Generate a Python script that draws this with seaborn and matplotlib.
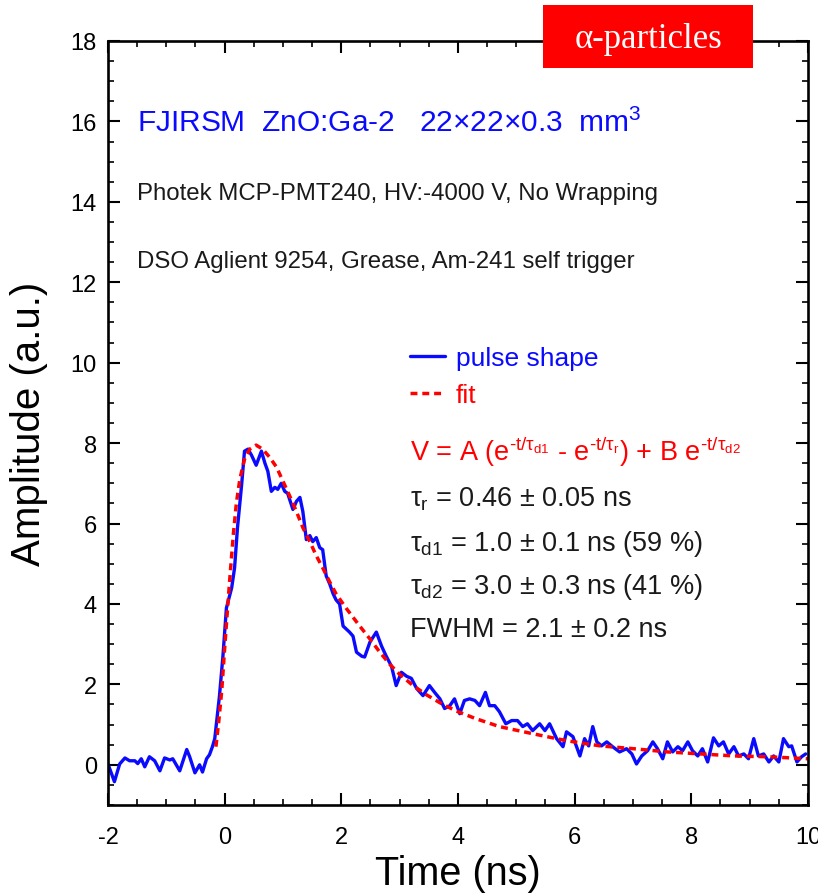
import numpy as np
import pandas as pd
import matplotlib
matplotlib.use("Agg")
import matplotlib.pyplot as plt
import seaborn as sns
from matplotlib.patches import Rectangle
from matplotlib.ticker import MultipleLocator

# ---------------- data ----------------
pulse_t = [-2.00, -1.89, -1.80, -1.71, -1.63, -1.54, -1.49, -1.43, -1.37, -1.29,
           -1.20, -1.11, -1.03, -0.94, -0.89, -0.77, -0.65, -0.60, -0.51, -0.43,
           -0.38, -0.31, -0.26, -0.21, -0.17, -0.09, -0.03, 0.03, 0.12, 0.17,
           0.22, 0.29, 0.34, 0.40, 0.46, 0.54, 0.63, 0.69, 0.74, 0.80,
           0.86, 0.91, 0.97, 1.03, 1.08, 1.17, 1.23, 1.29, 1.34, 1.40,
           1.46, 1.51, 1.57, 1.63, 1.68, 1.74, 1.80, 1.86, 1.91, 1.97,
           2.03, 2.14, 2.20, 2.26, 2.35, 2.40, 2.49, 2.60, 2.69, 2.77,
           2.86, 2.94, 3.03, 3.12, 3.20, 3.29, 3.40, 3.51, 3.60, 3.69,
           3.77, 3.86, 3.94, 4.03, 4.11, 4.20, 4.29, 4.37, 4.47, 4.54,
           4.63, 4.71, 4.82, 4.92, 5.02, 5.11, 5.19, 5.28, 5.40, 5.49,
           5.57, 5.69, 5.80, 5.86, 5.97, 6.09, 6.17, 6.24, 6.31, 6.38,
           6.46, 6.55, 6.65, 6.77, 6.89, 6.98, 7.06, 7.15, 7.25, 7.34,
           7.42, 7.51, 7.59, 7.68, 7.77, 7.85, 7.94, 8.02, 8.11, 8.19,
           8.28, 8.38, 8.47, 8.55, 8.64, 8.73, 8.81, 8.90, 8.98, 9.07,
           9.15, 9.24, 9.33, 9.41, 9.50, 9.58, 9.67, 9.72, 9.81, 9.89, 9.96]
pulse_v = [0.02, -0.42, 0.02, 0.17, 0.10, 0.10, 0.03, 0.15, -0.05, 0.20,
           0.10, -0.15, 0.17, 0.12, 0.15, -0.15, 0.38, 0.20, -0.20, 0.00,
           -0.18, 0.15, 0.25, 0.45, 0.65, 1.70, 2.70, 3.90, 4.40, 4.90,
           5.90, 6.95, 7.80, 7.85, 7.70, 7.45, 7.80, 7.50, 7.30, 6.80,
           6.90, 6.85, 7.00, 6.80, 6.75, 6.35, 6.55, 6.65, 6.30, 5.60,
           5.70, 5.55, 5.65, 5.40, 5.35, 4.70, 4.50, 4.25, 4.10, 4.00,
           3.45, 3.30, 3.20, 2.80, 2.70, 2.68, 3.05, 3.30, 2.95, 2.70,
           2.45, 1.97, 2.30, 2.20, 2.15, 1.90, 1.72, 1.97, 1.80, 1.64,
           1.40, 1.47, 1.64, 1.27, 1.60, 1.64, 1.60, 1.47, 1.80, 1.47,
           1.47, 1.32, 1.02, 1.10, 1.10, 0.95, 1.02, 0.85, 1.02, 0.85,
           1.02, 0.65, 0.45, 0.82, 0.70, 0.22, 0.65, 0.47, 0.95, 0.57,
           0.47, 0.57, 0.45, 0.32, 0.40, 0.27, 0.02, 0.22, 0.35, 0.57,
           0.40, 0.15, 0.57, 0.32, 0.45, 0.35, 0.57, 0.35, 0.22, 0.40,
           0.07, 0.67, 0.47, 0.57, 0.27, 0.45, 0.22, 0.27, 0.15, 0.65,
           0.22, 0.27, 0.07, 0.22, 0.07, 0.65, 0.45, 0.47, 0.07, 0.20, 0.27]

fit_t = [-0.15, -0.10, -0.05, 0.00, 0.05, 0.10, 0.15, 0.20, 0.26, 0.34,
         0.43, 0.54, 0.65, 0.77, 0.89, 1.00, 1.11, 1.23, 1.34, 1.46,
         1.57, 1.68, 1.80, 1.91, 2.09, 2.31, 2.49, 2.66, 2.83, 3.00,
         3.23, 3.46, 3.74, 4.00, 4.30, 4.71, 5.29, 5.86, 6.44, 7.01,
         7.59, 8.16, 8.74, 9.31, 10.00]
fit_v = [0.45, 1.10, 1.85, 2.90, 3.90, 4.85, 5.75, 6.50, 7.10, 7.60,
         7.85, 7.95, 7.85, 7.65, 7.40, 7.05, 6.70, 6.30, 5.90, 5.55,
         5.20, 4.90, 4.55, 4.25, 3.88, 3.46, 3.13, 2.80, 2.50, 2.25,
         1.97, 1.74, 1.50, 1.32, 1.15, 0.95, 0.77, 0.60, 0.47, 0.40,
         0.32, 0.27, 0.22, 0.20, 0.15]

x_ticks = [-2, 0, 2, 4, 6, 8, 10]
y_ticks = [0, 2, 4, 6, 8, 10, 12, 14, 16, 18]

title_text = "FJIRSM  ZnO:Ga-2   22×22×0.3  mm$^{3}$"
info_lines = ["Photek MCP-PMT240, HV:-4000 V, No Wrapping",
              "DSO Aglient 9254, Grease, Am-241 self trigger"]
eq_text = r"V = A (e$^{\text{-}t/\tau_{d1}}$ - e$^{\text{-}t/\tau_{r}}$) + B e$^{\text{-}t/\tau_{d2}}$"
param_lines = [r"$\tau_{r}$ = 0.46 ± 0.05 ns",
               r"$\tau_{d1}$ = 1.0 ± 0.1 ns (59 %)",
               r"$\tau_{d2}$ = 3.0 ± 0.3 ns (41 %)",
               "FWHM = 2.1 ± 0.2 ns"]

# ---------------- style ----------------
sns.set_theme(style="ticks")
plt.rcParams["font.family"] = ["Liberation Sans", "DejaVu Sans"]
plt.rcParams["mathtext.fontset"] = "custom"
plt.rcParams["mathtext.rm"] = "Liberation Sans"
plt.rcParams["mathtext.it"] = "Liberation Sans"
plt.rcParams["mathtext.sf"] = "Liberation Sans"
plt.rcParams["mathtext.bf"] = "Liberation Sans:bold"
plt.rcParams["mathtext.default"] = "regular"

BLUE = "#0a0aff"
RED = "#ff0000"
DARK = "#1a1a1a"

W, H = 818, 895
fig = plt.figure(figsize=(W / 100, H / 100), dpi=100)
ax = fig.add_axes([108 / W, 1 - 806 / H, 700 / W, 764 / H])

pulse_df = pd.DataFrame({"t": pulse_t, "v": pulse_v})
fit_df = pd.DataFrame({"t": fit_t, "v": fit_v})

sns.lineplot(data=pulse_df, x="t", y="v", ax=ax, color=BLUE, lw=2.4,
             estimator=None, sort=False, label="pulse shape")
sns.lineplot(data=fit_df, x="t", y="v", ax=ax, color=RED, lw=2.5,
             linestyle=(0, (2.0, 1.4)), estimator=None, sort=False, label="fit")

ax.set_xlim(-2, 10)
ax.set_ylim(-1, 18)
ax.set_xticks(x_ticks)
ax.set_yticks(y_ticks)
ax.xaxis.set_minor_locator(MultipleLocator(0.5))
ax.yaxis.set_minor_locator(MultipleLocator(0.5))
ax.set_xticklabels([str(v) for v in x_ticks])
ax.set_yticklabels([str(v) for v in y_ticks])
ax.tick_params(which="both", direction="in", top=True, right=True, colors="black")
ax.tick_params(which="major", length=8.5, width=1.5, labelsize=17)
ax.tick_params(axis="x", which="major", pad=15)
ax.tick_params(axis="y", which="major", pad=8)
ax.tick_params(which="minor", length=4.3, width=1.2)
for sp in ax.spines.values():
    sp.set_linewidth(1.9)
    sp.set_color("black")

ax.set_xlabel("Time (ns)", fontsize=28.5, color="black")
ax.set_ylabel("Amplitude (a.u.)", fontsize=29, color="black")
ax.xaxis.set_label_coords(0.5, -0.064)
ax.yaxis.set_label_coords(-0.086, 0.5)

# legend
leg = ax.legend(loc="upper left", bbox_to_anchor=(3.17, 10.42),
                bbox_transform=ax.transData, frameon=False, fontsize=19,
                handlelength=1.35, handletextpad=0.4, labelspacing=0.5,
                borderpad=0, borderaxespad=0)
for txt, c in zip(leg.get_texts(), [BLUE, RED]):
    txt.set_color(c)

# annotations
ax.text(-1.51, 15.77, title_text, color=BLUE, fontsize=21.5, va="baseline")
ax.text(-1.51, 14.08, info_lines[0], color=DARK, fontsize=17.3, va="baseline")
ax.text(-1.51, 12.38, info_lines[1], color=DARK, fontsize=17.3, va="baseline")
ax.text(3.17, 7.59, eq_text, color=RED, fontsize=19.5, va="baseline")
for yv, s in zip([6.44, 5.35, 4.28, 3.21], param_lines):
    ax.text(3.17, yv, s, color=DARK, fontsize=19.5, va="baseline")

# red label box
fig.add_artist(Rectangle((543 / W, 1 - 69 / H), 210 / W, 63 / H,
                         transform=fig.transFigure, facecolor=RED,
                         edgecolor="none", zorder=10))
fig.text(648 / W, 1 - 39 / H, "α-particles", family="Liberation Serif",
         fontsize=25, color="white", ha="center", va="center", zorder=11)

fig.savefig("out.png", dpi=100)
